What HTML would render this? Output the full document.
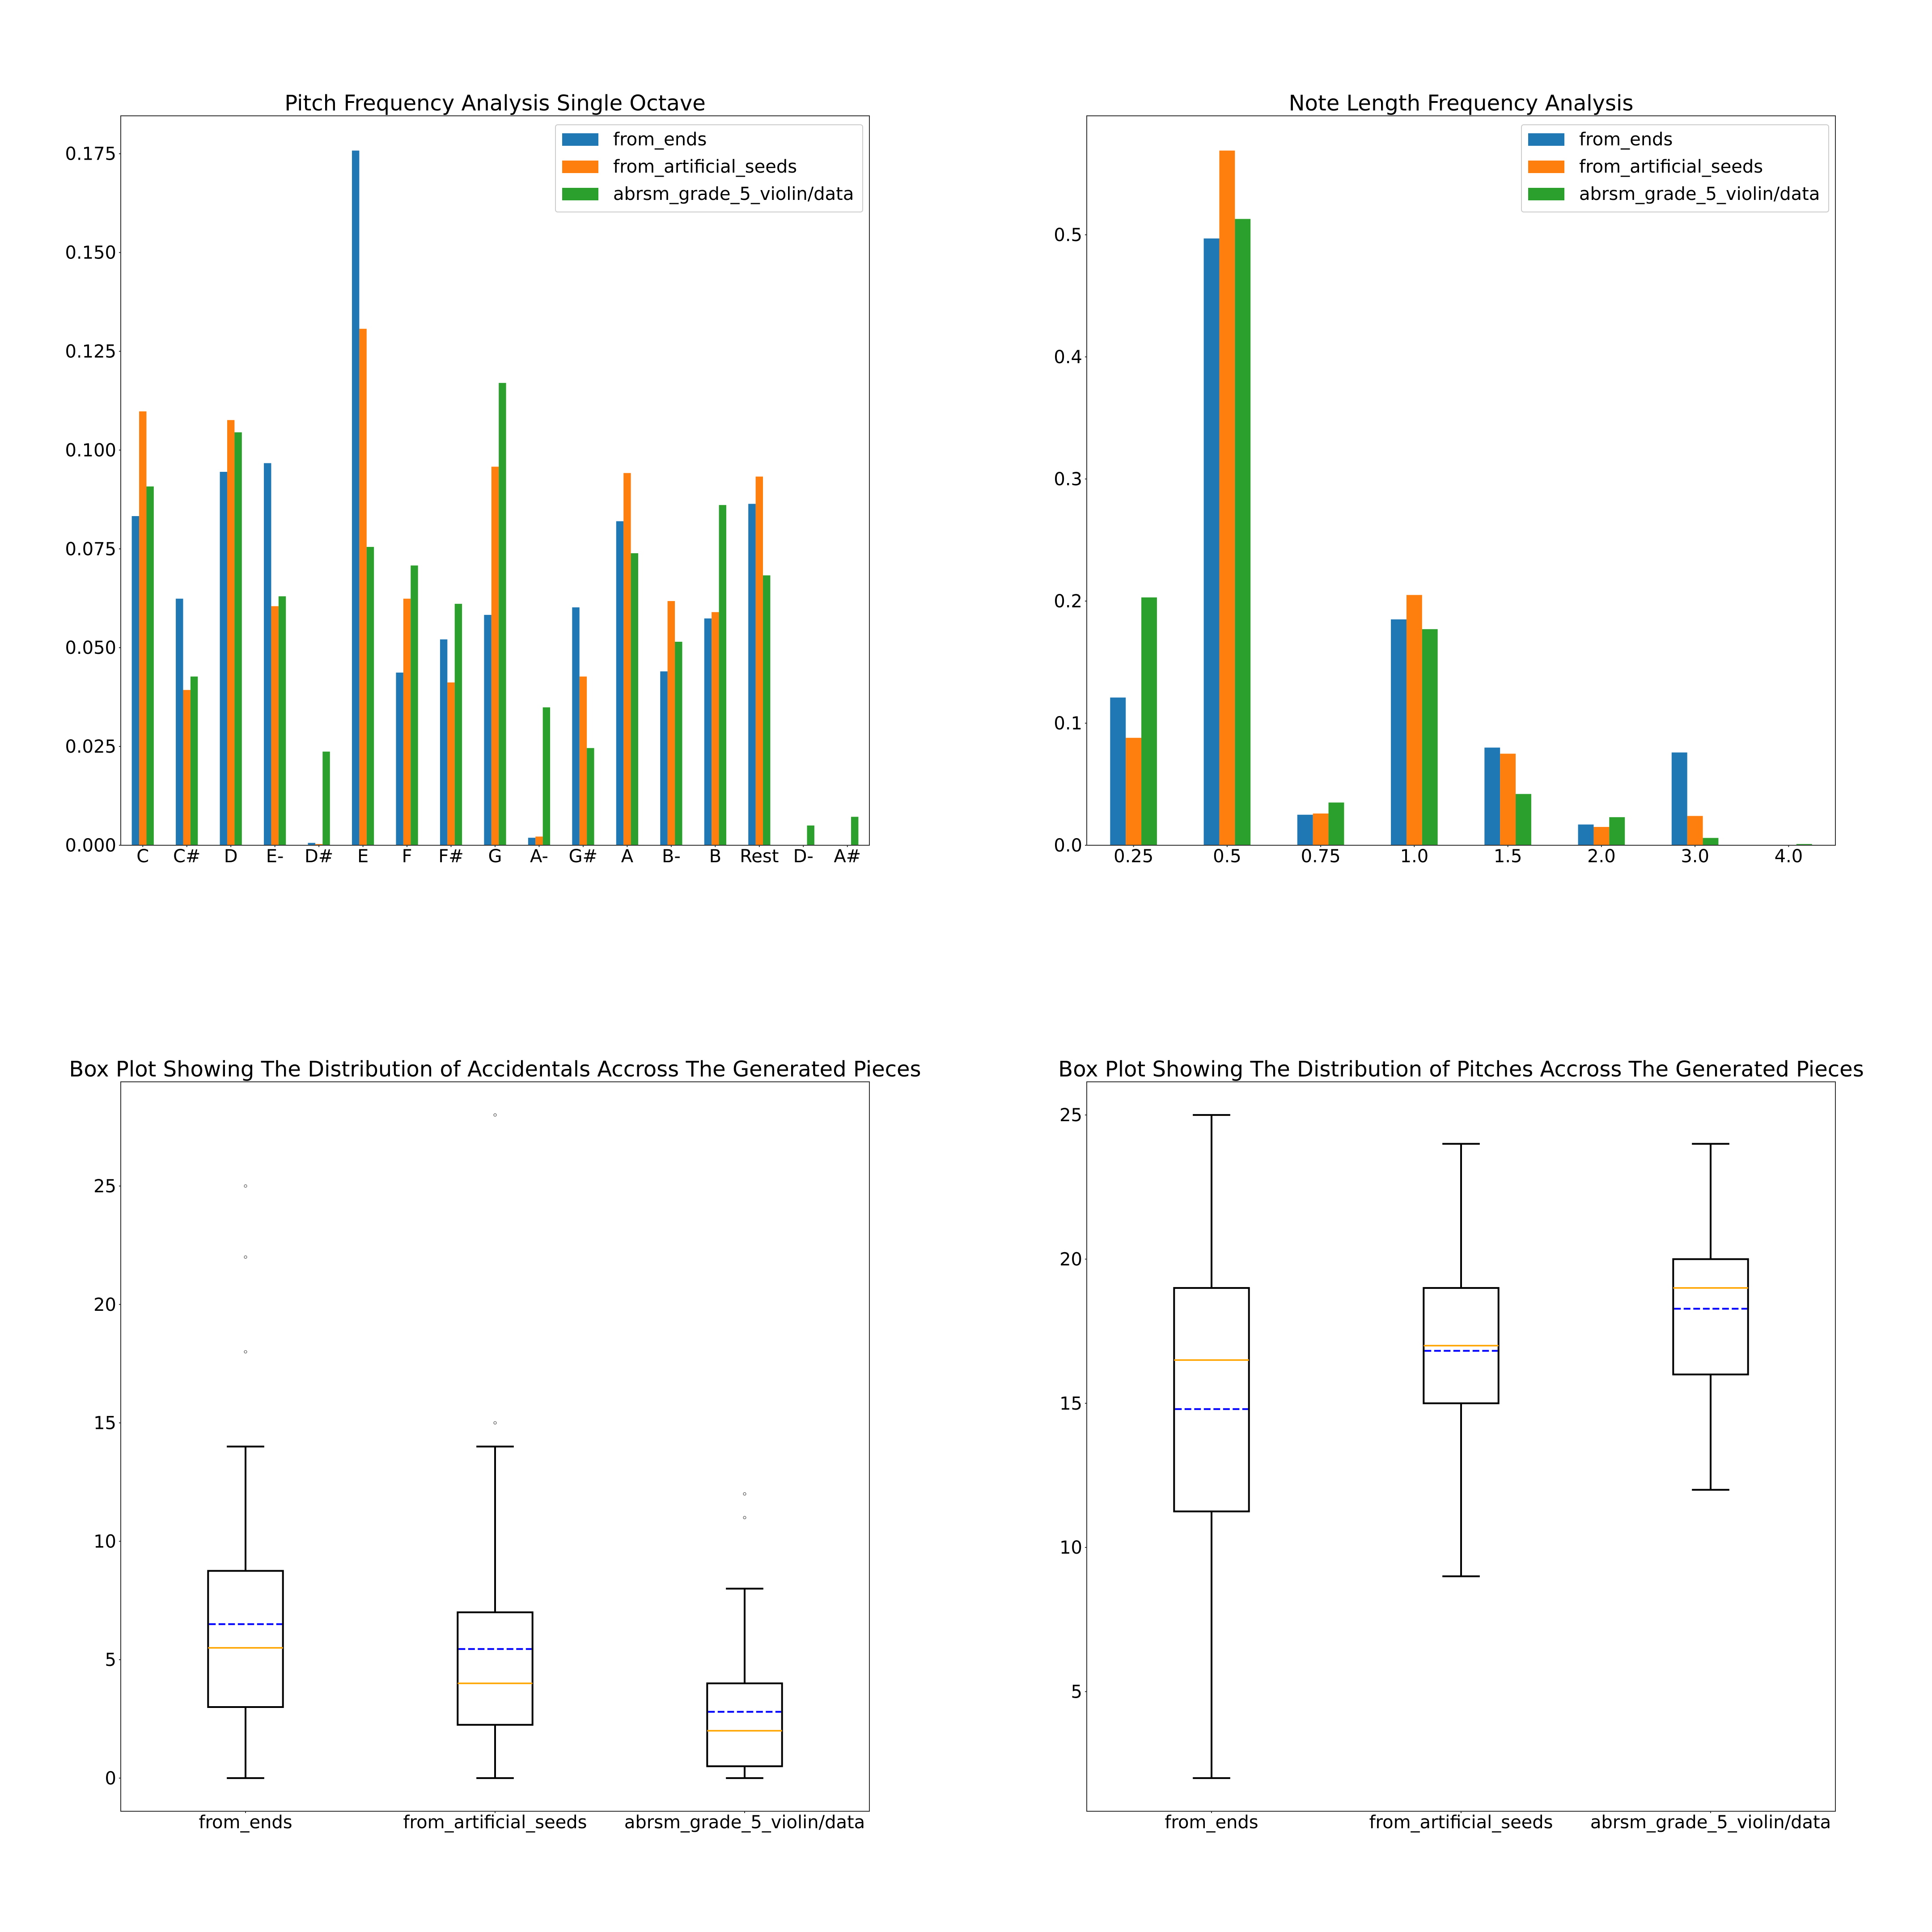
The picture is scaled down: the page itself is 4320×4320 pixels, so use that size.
<!DOCTYPE html>
<html><head><meta charset="utf-8"><title>Music analysis charts</title>
<style>
html,body{margin:0;padding:0;background:#fff;}
svg{display:block;font-family:"DejaVu Sans","Liberation Sans",sans-serif;}
</style></head>
<body>
<svg id="fig" width="4320" height="4320" viewBox="0 0 4320 4320" xmlns="http://www.w3.org/2000/svg">
<rect width="4320" height="4320" fill="#fff"/>
</svg>
<script>
// ---- Chart 1 data ----
const pitchCategories = ["C","C#","D","E-","D#","E","F","F#","G","A-","G#","A","B-","B","Rest","D-","A#"];
const pitchFromEnds = [0.0833,0.0624,0.0945,0.0967,0.0006,0.1758,0.0437,0.0521,0.0583,0.0019,0.0602,0.0820,0.0440,0.0574,0.0864,0,0];
const pitchFromSeeds = [0.1098,0.0393,0.1076,0.0605,0.0003,0.1307,0.0624,0.0412,0.0958,0.0022,0.0427,0.0942,0.0618,0.0590,0.0933,0,0];
const pitchAbrsm = [0.0908,0.0427,0.1045,0.0630,0.0237,0.0755,0.0708,0.0611,0.1170,0.0349,0.0246,0.0739,0.0515,0.0861,0.0683,0.0050,0.0072];
const pitchTicks = [0,0.025,0.05,0.075,0.1,0.125,0.15,0.175];
const pitchTickLabels = ["0.000","0.025","0.050","0.075","0.100","0.125","0.150","0.175"];
// ---- Chart 2 data ----
const lengthCategories = ["0.25","0.5","0.75","1.0","1.5","2.0","3.0","4.0"];
const lengthFromEnds = [0.121,0.497,0.025,0.185,0.080,0.017,0.076,0];
const lengthFromSeeds = [0.088,0.569,0.026,0.205,0.075,0.015,0.024,0];
const lengthAbrsm = [0.203,0.513,0.035,0.177,0.042,0.023,0.006,0.001];
const lengthTicks = [0,0.1,0.2,0.3,0.4,0.5];
const lengthTickLabels = ["0.0","0.1","0.2","0.3","0.4","0.5"];
// ---- Chart 3 data (accidentals) ----
const boxGroups = ["from_ends","from_artificial_seeds","abrsm_grade_5_violin/data"];
const accLow = [0,0,0];
const accQ1 = [3,2.25,0.5];
const accMedian = [5.5,4,2];
const accMean = [6.5,5.45,2.8];
const accQ3 = [8.75,7,4];
const accHigh = [14,14,8];
const accFliers = [[18,22,25],[15,28],[11,12]];
const accTicks = [0,5,10,15,20,25];
// ---- Chart 4 data (pitches) ----
const pitLow = [2,9,12];
const pitQ1 = [11.25,15,16];
const pitMedian = [16.5,17,19];
const pitMean = [14.8,16.82,18.28];
const pitQ3 = [19,19,20];
const pitHigh = [25,24,24];
const pitFliers = [[],[],[]];
const pitTicks = [5,10,15,20,25];

const NS="http://www.w3.org/2000/svg";
const fig=document.getElementById('fig');
const colors=["#1f77b4","#ff7f0e","#2ca02c"];
const seriesNames=["from_ends","from_artificial_seeds","abrsm_grade_5_violin/data"];
const TICK_FS=40, TITLE_FS=48;
function mk(tag,attrs,parent){const e=document.createElementNS(NS,tag);for(const k in attrs)e.setAttribute(k,attrs[k]);(parent||fig).appendChild(e);return e;}

function makeAxes(left,top,w,h,xmin,xmax,ymin,ymax,name){
  const g=mk('g',{});
  
  
  return {g,left,top,w,h,
    x:v=>left+(v-xmin)/(xmax-xmin)*w,
    y:v=>top+h-(v-ymin)/(ymax-ymin)*h};
}
function spines(ax){
  const r=mk('rect',{x:ax.left,y:ax.top,width:ax.w,height:ax.h,fill:'none',stroke:'#333',"stroke-width":2},ax.g);
  
  
}
function title(ax,txt){
  const t=mk('text',{x:ax.left+ax.w/2,y:ax.top-12,"text-anchor":"middle","font-size":TITLE_FS,fill:'#000'},ax.g);
  t.textContent=txt;
  
  
}
function yTicks(ax,vals,labels){
  vals.forEach((v,i)=>{
    const yy=ax.y(v);
    mk('line',{x1:ax.left-4,x2:ax.left,y1:yy,y2:yy,stroke:'#333',"stroke-width":2},ax.g);
    const t=mk('text',{x:ax.left-10,y:yy+14,"text-anchor":"end","font-size":TICK_FS,fill:'#000'},ax.g);
    t.textContent=labels[i];
    
    
  });
}
function xTicks(ax,positions,labels){
  positions.forEach((p,i)=>{
    const xx=ax.x(p);
    mk('line',{x1:xx,x2:xx,y1:ax.top+ax.h,y2:ax.top+ax.h+4,stroke:'#333',"stroke-width":2},ax.g);
    const t=mk('text',{x:xx,y:ax.top+ax.h+38,"text-anchor":"middle","font-size":TICK_FS,fill:'#000'},ax.g);
    t.textContent=labels[i];
    
    
  });
}
function bars(ax,series){
  const bw=0.5/3;
  series.forEach((s,si)=>{
    s.forEach((v,i)=>{
      const x0=ax.x(i-0.25+si*bw), x1=ax.x(i-0.25+(si+1)*bw);
      const y0=ax.y(0), y1=ax.y(v);
      const r=mk('rect',{x:x0,y:Math.min(y0,y1),width:x1-x0,height:Math.abs(y0-y1),fill:colors[si]},ax.g);
      
      
    });
  });
}
function legend(ax,lx,ly){
  const lg=mk('g',{},ax.g);
  
  
  mk('rect',{x:lx,y:ly,width:687,height:195,rx:5,fill:'#fff',"fill-opacity":0.8,stroke:'#ccc',"stroke-width":2},lg);
  seriesNames.forEach((n,i)=>{
    const ent=mk('g',{},lg);
    
    
    mk('rect',{x:lx+15,y:ly+19+i*61,width:81,height:28,fill:colors[i]},ent);
    const t=mk('text',{x:lx+129,y:ly+46+i*61,"font-size":TICK_FS,fill:'#000'},ent);
    t.textContent=n;
  });
}
function boxplot(ax,low,q1,med,mean,q3,high,fliers){
  const bw=0.3,cw=0.15;
  low.forEach((_,i)=>{
    const p=i+1;
    const g=mk('g',{},ax.g);
    
    
    const st={stroke:'#000',"stroke-width":4,fill:'none'};
    mk('rect',Object.assign({x:ax.x(p-bw/2),y:ax.y(q3[i]),width:ax.x(p+bw/2)-ax.x(p-bw/2),height:ax.y(q1[i])-ax.y(q3[i])},st),g);
    mk('line',Object.assign({x1:ax.x(p),x2:ax.x(p),y1:ax.y(q3[i]),y2:ax.y(high[i])},st),g);
    mk('line',Object.assign({x1:ax.x(p),x2:ax.x(p),y1:ax.y(q1[i]),y2:ax.y(low[i])},st),g);
    mk('line',Object.assign({x1:ax.x(p-cw/2),x2:ax.x(p+cw/2),y1:ax.y(high[i]),y2:ax.y(high[i])},st),g);
    mk('line',Object.assign({x1:ax.x(p-cw/2),x2:ax.x(p+cw/2),y1:ax.y(low[i]),y2:ax.y(low[i])},st),g);
    const m=mk('line',{x1:ax.x(p-bw/2),x2:ax.x(p+bw/2),y1:ax.y(med[i]),y2:ax.y(med[i]),stroke:'#ffa500',"stroke-width":3.5},g);
    
    
    const mm=mk('line',{x1:ax.x(p-bw/2)+2,x2:ax.x(p+bw/2)-2,y1:ax.y(mean[i]),y2:ax.y(mean[i]),stroke:'#0000ff',"stroke-width":4,"stroke-dasharray":"15 6.5"},g);
    
    
    fliers[i].forEach(f=>{
      const c=mk('circle',{cx:ax.x(p),cy:ax.y(f),r:3,fill:'none',stroke:'#555',"stroke-width":1.2},g);
      
      
    });
  });
}

// Chart 1
const a1=makeAxes(270,259,1674,1631,-0.5,pitchCategories.length-0.5,0,Math.max(...pitchFromEnds,...pitchFromSeeds,...pitchAbrsm)*1.05,'pitch-frequency-chart');
bars(a1,[pitchFromEnds,pitchFromSeeds,pitchAbrsm]);
spines(a1);
yTicks(a1,pitchTicks,pitchTickLabels);
xTicks(a1,pitchCategories.map((_,i)=>i),pitchCategories);
title(a1,"Pitch Frequency Analysis Single Octave");
legend(a1,1242,279);

// Chart 2
const a2=makeAxes(2430,259,1674,1631,-0.5,lengthCategories.length-0.5,0,Math.max(...lengthFromEnds,...lengthFromSeeds,...lengthAbrsm)*1.05,'note-length-chart');
bars(a2,[lengthFromEnds,lengthFromSeeds,lengthAbrsm]);
spines(a2);
yTicks(a2,lengthTicks,lengthTickLabels);
xTicks(a2,lengthCategories.map((_,i)=>i),lengthCategories);
title(a2,"Note Length Frequency Analysis");
legend(a2,3402,279);

// Chart 3
const accAll=[...accLow,...accHigh,...accFliers.flat()];
const accMin=Math.min(...accAll),accMax=Math.max(...accAll),accPad=(accMax-accMin)*0.05;
const a3=makeAxes(270,2419,1674,1631,0.5,3.5,accMin-accPad,accMax+accPad,'accidentals-boxplot');
boxplot(a3,accLow,accQ1,accMedian,accMean,accQ3,accHigh,accFliers);
spines(a3);
yTicks(a3,accTicks,accTicks.map(String));
xTicks(a3,[1,2,3],boxGroups);
title(a3,"Box Plot Showing The Distribution of Accidentals Accross The Generated Pieces");

// Chart 4
const pitAll=[...pitLow,...pitHigh,...pitFliers.flat()];
const pitMin=Math.min(...pitAll),pitMax=Math.max(...pitAll),pitPad=(pitMax-pitMin)*0.05;
const a4=makeAxes(2430,2419,1674,1631,0.5,3.5,pitMin-pitPad,pitMax+pitPad,'pitches-boxplot');
boxplot(a4,pitLow,pitQ1,pitMedian,pitMean,pitQ3,pitHigh,pitFliers);
spines(a4);
yTicks(a4,pitTicks,pitTicks.map(String));
xTicks(a4,[1,2,3],boxGroups);
title(a4,"Box Plot Showing The Distribution of Pitches Accross The Generated Pieces");
</script>
</body></html>
